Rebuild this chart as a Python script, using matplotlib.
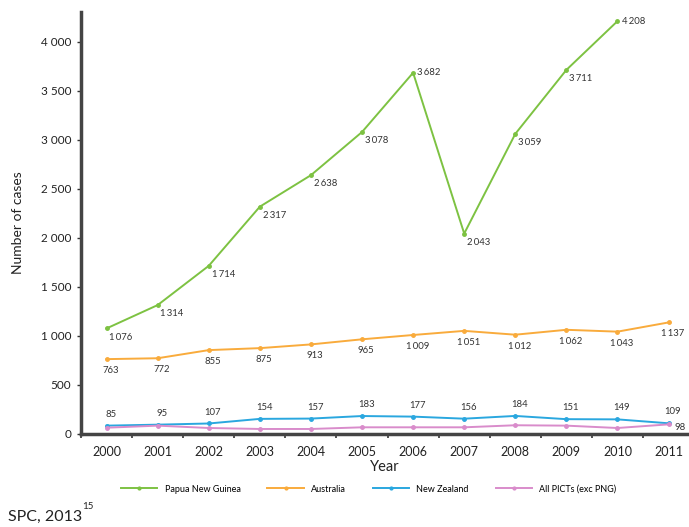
import matplotlib
matplotlib.use("Agg")
import matplotlib.pyplot as plt
from matplotlib.ticker import FuncFormatter, MultipleLocator

plt.rcParams['font.family'] = ['Lato', 'DejaVu Sans']

#------------------------------------------ data
years = [2000, 2001, 2002, 2003, 2004, 2005, 2006, 2007, 2008, 2009, 2010, 2011]
png = [1076, 1314, 1714, 2317, 2638, 3078, 3682, 2043, 3059, 3711, 4208, None]
australia = [763, 772, 855, 875, 913, 965, 1009, 1051, 1012, 1062, 1043, 1137]
new_zealand = [85, 95, 107, 154, 157, 183, 177, 156, 184, 151, 149, 109]
picts = [64, 85, 61, 51, 51, 68, 68, 68, 89, 85, 61, 98]
picts_labels = [None] * 11 + [98]

names = ['Papua New Guinea', 'Australia', 'New Zealand', 'All PICTs (exc PNG)']
couleurs = ['#7dc242', '#f9ab3c', '#2aa7df', '#d98ccb']

def fmt(v, sep='\u2009'):
    return '{:,}'.format(int(v)).replace(',', sep)

#------------------------------------------ figure
fig = plt.figure(figsize=(6.89, 5.27), dpi=100)
ax = fig.add_axes([0.1176, 0.1765, 0.8824, 0.8005])

series = [png, australia, new_zealand, picts]
for vals, nom, c in zip(series, names, couleurs):
    xs = [y for y, v in zip(years, vals) if v is not None]
    vs = [v for v in vals if v is not None]
    ax.plot(xs, vs, color=c, lw=1.4, marker='o', ms=2.5, label=nom, zorder=3)

# data labels
lab_kw = dict(fontsize=6.8, color='#333333', textcoords='offset points')
for y, v in zip(years, png):
    if v is None:
        continue
    if v in (3682, 4208):
        ax.annotate(fmt(v), (y, v), xytext=(3, 0), ha='left', va='center', **lab_kw)
    else:
        ax.annotate(fmt(v), (y, v), xytext=(2, -3), ha='left', va='top', **lab_kw)
for y, v in zip(years, australia):
    ax.annotate(fmt(v), (y, v), xytext=(3, -5), ha='center', va='top', **lab_kw)
for y, v in zip(years, new_zealand):
    ax.annotate(fmt(v), (y, v), xytext=(3, 5), ha='center', va='bottom', **lab_kw)
for y, v in zip(years, picts_labels):
    if v is not None:
        ax.annotate(fmt(v), (y, v), xytext=(4, -2), ha='left', va='center', **lab_kw)

#------------------------------------------ axes
ax.set_xlim(1999.5, 2011.4)
ax.set_ylim(0, 4300)
ax.set_xticks(years)
ax.set_xticklabels([str(y) for y in years])
ax.xaxis.set_minor_locator(MultipleLocator(1, offset=0.5))
ax.tick_params(axis='x', which='major', length=0, labelsize=9, pad=9, colors='#222222')
ax.tick_params(axis='x', which='minor', length=3, width=1.2, color='#333333')
ax.set_yticks(range(0, 4001, 500))
ax.yaxis.set_major_formatter(FuncFormatter(lambda v, p: fmt(v, ' ')))
ax.tick_params(axis='y', length=3, width=1, labelsize=8.5, pad=4, color='#333333', labelcolor='#222222')

for s in ('top', 'right'):
    ax.spines[s].set_visible(False)
for s in ('left', 'bottom'):
    ax.spines[s].set_linewidth(2.5)
    ax.spines[s].set_color('#444444')

ax.set_xlabel('Year', fontsize=10.5, labelpad=1, color='#222222')
ax.set_ylabel('Number of cases', fontsize=10, labelpad=12, color='#222222')

fig.legend(loc='center', bbox_to_anchor=(0.535, 0.072), ncol=4, frameon=False,
           fontsize=6.5, handlelength=4, columnspacing=3, markerscale=0.8)

fig.text(0.012, 0.011, 'SPC, 2013', fontsize=11.5, color='#222222', va='baseline')
fig.text(0.119, 0.034, '15', fontsize=7, color='#222222', va='baseline')

fig.savefig('out.png', dpi=100)
